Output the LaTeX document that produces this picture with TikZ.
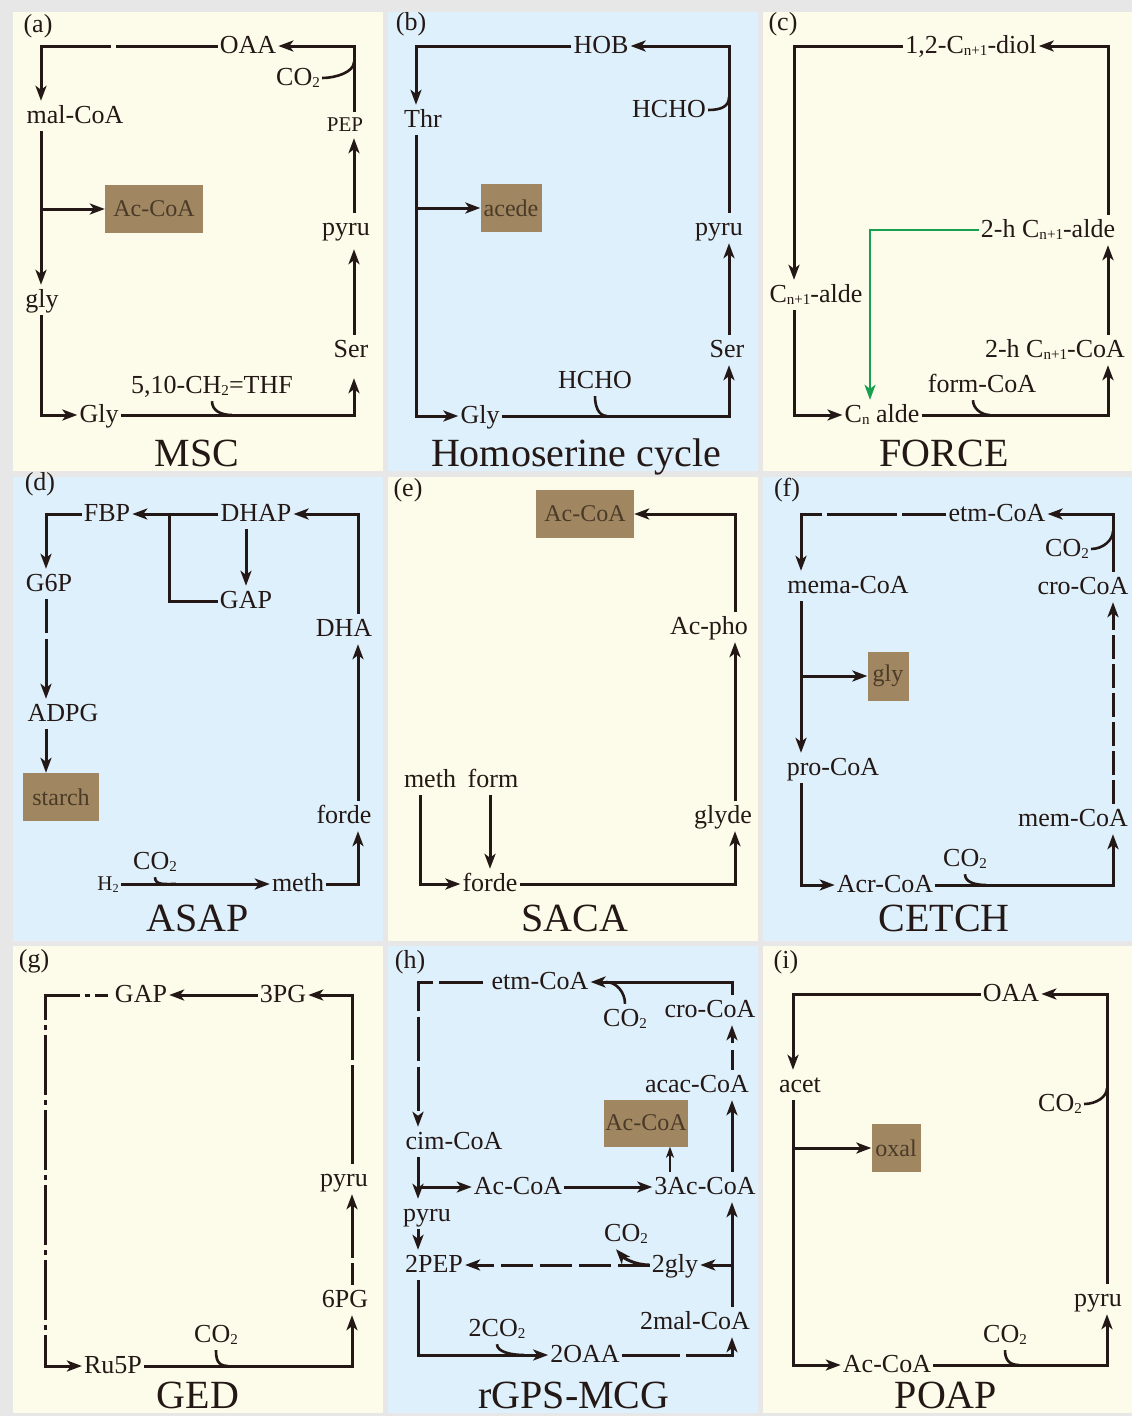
\documentclass[tikz,border=0pt]{standalone}
\usepackage{fontspec}
\setmainfont{Liberation Serif}
\usetikzlibrary{arrows.meta}
\definecolor{ink}{HTML}{231815}
\definecolor{cream}{HTML}{FDFBE9}
\definecolor{skyblue}{HTML}{DEF0FB}
\definecolor{gapgrey}{HTML}{E7E7E7}
\definecolor{boxfill}{HTML}{A08761}
\definecolor{boxtext}{HTML}{4A3A28}
\definecolor{forcegreen}{HTML}{16A050}
\newcommand{\csub}[1]{\raisebox{-0.1em}{\scalebox{0.58}{#1}}}

\begin{document}
\begin{tikzpicture}[
  x=1pt, y=-1pt,
  met/.style={inner xsep=2pt, inner ysep=4pt, text height=18pt, text depth=4pt,
    font=\fontsize{26}{28}\selectfont, text=ink},
  small/.style={met, font=\fontsize{21}{24}\selectfont, text height=15pt, text depth=3pt},
  product/.style={fill=boxfill, text=boxtext, inner sep=0pt,
    font=\fontsize{24}{26}\selectfont},
  title/.style={anchor=base, font=\fontsize{40}{44}\selectfont, text=ink},
  tag/.style={font=\fontsize{26}{28}\selectfont, text=ink},
  link/.style={line width=3pt, draw=ink},
  arrow/.style={link, -{Stealth[length=15pt, width=11pt, inset=4pt]}},
  thinarrow/.style={line width=1.8pt, draw=ink, -{Stealth[length=11pt, width=8pt, inset=3pt]}},
  hook/.style={line width=2.6pt, draw=ink},
]
\useasboundingbox (0,0) rectangle (1132,1416);
\fill[gapgrey] (0,0) rectangle (1132,1416);

% === Panel backgrounds ===
\fill[cream] (13,12) rectangle (383,471);
\fill[skyblue] (388,12) rectangle (758,471);
\fill[cream] (763,12) rectangle (1132,471);
\fill[skyblue] (13,477) rectangle (383,941);
\fill[cream] (388,477) rectangle (758,941);
\fill[skyblue] (763,477) rectangle (1132,941);
\fill[cream] (13,946) rectangle (383,1413);
\fill[skyblue] (388,946) rectangle (758,1413);
\fill[cream] (763,946) rectangle (1132,1413);

% === (a) MSC ===
\node[tag] (atag) at (38,26) {(a)};
\node[title] (atitle) at (197,466) {MSC};
\coordinate (aTL) at (41,46);
\coordinate (aTR) at (354,46);
\coordinate (aBL) at (41,415);
\coordinate (aBR) at (354,415);
\node[met] (aoaa) at (248,46) {OAA};
\node[met] (aco) at (298,78) {CO\csub{2}};
\node[met] (amal) at (75,116) {mal-CoA};
\node[met] (agly) at (42,300) {gly};
\node[met] (aGly) at (99,415) {Gly};
\node[met] (athf) at (212,386) {5,10-CH\csub{2}=THF};
\node[met] (aser) at (351,350) {Ser};
\node[met] (apyru) at (346,228) {pyru};
\node[small] (apep) at (345,125) {PEP};
\node[product, minimum width=98pt, minimum height=48pt] (abox) at (154,209) {Ac-CoA};
\coordinate (acojoin) at (354,62);
\coordinate (athfjoin) at (232,415);
\draw[arrow] (apep.north -| aTR) -- (aTR) -- (aoaa);
\draw[arrow, dash pattern=on 102pt off 5pt on 500pt] (aoaa) -- (aTL) -- (amal.north -| aTL);
\draw[arrow] (amal.south -| aTL) -- (agly.north -| aTL);
\draw[arrow] (aTL |- abox) -- (abox);
\draw[arrow] (agly.south -| aBL) -- (aBL) -- (aGly);
\draw[arrow, shorten >=13pt] (aGly) -- (aBR) -- (aser.south -| aBR);
\draw[arrow, shorten >=6pt] (aser.north -| aBR) -- (apyru.south -| aBR);
\draw[arrow] (apyru.north -| aBR) -- (apep.south -| aBR);
\draw[hook] (aco.east) .. controls ([xshift=14pt]aco.east) and ([yshift=-10pt]acojoin) .. (acojoin);
\draw[hook] (athf.south) .. controls ([yshift=-9pt]athf.south) and ([xshift=-12pt]athfjoin) .. (athfjoin);

% === (b) Homoserine cycle ===
\node[tag] (btag) at (411,24) {(b)};
\node[title] (btitle) at (576,466) {Homoserine cycle};
\coordinate (bTL) at (416,46);
\coordinate (bTR) at (729,46);
\coordinate (bBL) at (416,416);
\coordinate (bBR) at (729,416);
\node[met] (bhob) at (601,46) {HOB};
\node[met] (bthr) at (423,120) {Thr};
\node[met] (bgly) at (480,416) {Gly};
\node[met] (bser) at (727,350) {Ser};
\node[met] (bpyru) at (719,228) {pyru};
\node[met] (bhchoa) at (669,110) {HCHO};
\node[met] (bhchob) at (595,381) {HCHO};
\node[product, minimum width=61pt, minimum height=48pt] (bbox) at (511,208) {acede};
\coordinate (bhjoina) at (729,97);
\coordinate (bhjoinb) at (607,416);
\draw[arrow] (bpyru.north -| bTR) -- (bTR) -- (bhob);
\draw[arrow] (bhob) -- (bTL) -- (bthr.north -| bTL);
\draw[arrow] (bthr.south -| bBL) -- (bBL) -- (bgly);
\draw[arrow] (bTL |- bbox) -- (bbox);
\draw[arrow] (bgly) -- (bBR) -- (bser.south -| bBR);
\draw[arrow] (bser.north -| bBR) -- (bpyru.south -| bBR);
\draw[hook] (bhchoa.east) .. controls ([xshift=14pt]bhchoa.east) and ([yshift=-9pt]bhjoina) .. (bhjoina);
\draw[hook] (bhchob.south) .. controls ([yshift=-9pt]bhchob.south) and ([xshift=-9pt]bhjoinb) .. (bhjoinb);

% === (c) FORCE ===
\node[tag] (ctag) at (783,24) {(c)};
\node[title] (ctitle) at (944,466) {FORCE};
\coordinate (cTL) at (794,46);
\coordinate (cTR) at (1108,46);
\coordinate (cBL) at (794,415);
\coordinate (cBR) at (1108,415);
\node[met] (cdiol) at (971,46) {1,2-C\csub{n+1}-diol};
\node[met] (calde) at (816,295) {C\csub{n+1}-alde};
\node[met] (ccn) at (882,415) {C\csub{n} alde};
\node[met] (ccoa) at (1055,350) {2-h C\csub{n+1}-CoA};
\node[met] (chalde) at (1048,230) {2-h C\csub{n+1}-alde};
\node[met] (cform) at (982,385) {form-CoA};
\coordinate (cbend) at (870,230);
\coordinate (cformjoin) at (990,415);
\draw[arrow] (chalde.north -| cTR) -- (cTR) -- (cdiol);
\draw[arrow] (cdiol) -- (cTL) -- (calde.north -| cTL);
\draw[arrow] (calde.south -| cBL) -- (cBL) -- (ccn);
\draw[arrow] (ccn) -- (cBR) -- (ccoa.south -| cBR);
\draw[arrow] (ccoa.north -| cBR) -- (chalde.south -| cBR);
\draw[arrow, draw=forcegreen, line width=2.4pt] (chalde) -- (cbend) -- (ccn.north -| cbend);
\coordinate (cformfoot) at ([xshift=-9pt]cform.south);
\draw[hook] (cformfoot) .. controls ([yshift=-8pt]cformfoot) and ([xshift=-9pt]cformjoin) .. (cformjoin);

% === (d) ASAP ===
\node[tag] (dtag) at (40,484) {(d)};
\node[title] (dtitle) at (198,931) {ASAP};
\coordinate (dTL) at (46,514);
\coordinate (dTR) at (358,514);
\coordinate (dBR) at (358,884);
\node[met] (dfbp) at (107,514) {FBP};
\node[met] (dg6p) at (49,584) {G6P};
\node[met] (dadpg) at (63,714) {ADPG};
\node[product, minimum width=76pt, minimum height=48pt] (dbox) at (61,797) {starch};
\node[small] (dh2) at (108,884) {H\csub{2}};
\node[met] (dmeth) at (298,884) {meth};
\node[met] (dco) at (155,862) {CO\csub{2}};
\node[met] (dforde) at (344,816) {forde};
\node[met] (ddha) at (344,629) {DHA};
\node[met] (ddhap) at (256,514) {DHAP};
\node[met] (dgap) at (246,601) {GAP};
\coordinate (dsplit) at (169,514);
\coordinate (dcojoin) at (176,884);
\draw[arrow] (dh2) -- (dmeth);
\draw[hook] (dco.south) .. controls ([yshift=-8pt]dco.south) and ([xshift=-12pt]dcojoin) .. (dcojoin);
\draw[arrow] (dmeth) -- (dBR) -- (dforde.south -| dBR);
\draw[arrow] (dforde.north -| dBR) -- (ddha.south -| dBR);
\draw[arrow] (ddha.north -| dTR) -- (dTR) -- (ddhap);
\draw[arrow] (ddhap) -- (dfbp);
\draw[link] (dsplit) |- (dgap);
\draw[arrow] (ddhap.south -| dgap) -- (dgap);
\draw[arrow] (dfbp) -- (dTL) -- (dg6p.north -| dTL);
\draw[arrow, dash pattern=on 34pt off 6pt on 300pt] (dg6p.south -| dTL) -- (dadpg.north -| dTL);
\draw[arrow] (dadpg.south -| dTL) -- (dbox.north -| dTL);

% === (e) SACA ===
\node[tag] (etag) at (408,490) {(e)};
\node[title] (etitle) at (575,931) {SACA};
\coordinate (eTR) at (735,514);
\coordinate (eBR) at (735,884);
\coordinate (eBL) at (420,884);
\node[product, minimum width=98pt, minimum height=48pt] (ebox) at (585,514) {Ac-CoA};
\node[met] (epho) at (709,627) {Ac-pho};
\node[met] (eglyde) at (723,816) {glyde};
\node[met] (eforde) at (490,884) {forde};
\node[met] (emeth) at (430,780) {meth};
\node[met] (eform) at (493,780) {form};
\draw[arrow] (epho.north -| eTR) -- (eTR) -- (ebox);
\draw[arrow] (eglyde.north -| eTR) -- (epho.south -| eTR);
\draw[arrow] (eforde) -- (eBR) -- (eglyde.south -| eBR);
\draw[arrow] (emeth.south -| eBL) -- (eBL) -- (eforde);
\draw[arrow] (eform.south -| eforde) -- (eforde);

% === (f) CETCH ===
\node[tag] (ftag) at (787,490) {(f)};
\node[title] (ftitle) at (944,931) {CETCH};
\coordinate (fTL) at (801,514);
\coordinate (fTR) at (1113,514);
\coordinate (fBL) at (801,885);
\coordinate (fBR) at (1113,885);
\node[met] (fetm) at (997,514) {etm-CoA};
\node[met] (fmema) at (848,586) {mema-CoA};
\node[met] (fpro) at (833,768) {pro-CoA};
\node[product, minimum width=41pt, minimum height=49pt] (fbox) at (888,676) {gly};
\node[met] (facr) at (885,885) {Acr-CoA};
\node[met] (fcob) at (965,859) {CO\csub{2}};
\node[met] (fmem) at (1073,819) {mem-CoA};
\node[met] (fcro) at (1083,587) {cro-CoA};
\node[met] (fcoa) at (1067,549) {CO\csub{2}};
\coordinate (fcojoina) at (1113,531);
\coordinate (fcojoinb) at (986,885);
\draw[arrow] (fcro.north -| fTR) -- (fTR) -- (fetm);
\draw[arrow, dash pattern=on 44pt off 5pt on 70pt off 5pt on 500pt] (fetm) -- (fTL) -- (fmema.north -| fTL);
\draw[arrow] (fmema.south -| fTL) -- (fpro.north -| fTL);
\draw[arrow] (fTL |- fbox) -- (fbox);
\draw[arrow] (fpro.south -| fBL) -- (fBL) -- (facr);
\draw[arrow] (facr) -- (fBR) -- (fmem.south -| fBR);
\draw[arrow, dash pattern=on 24pt off 5pt] (fmem.north -| fBR) -- (fcro.south -| fBR);
\draw[hook] (fcoa.east) .. controls ([xshift=12pt]fcoa.east) and ([yshift=-9pt]fcojoina) .. (fcojoina);
\draw[hook] (fcob.south) .. controls ([yshift=-8pt]fcob.south) and ([xshift=-11pt]fcojoinb) .. (fcojoinb);

% === (g) GED ===
\node[tag] (gtag) at (34,961) {(g)};
\node[title] (gtitle) at (198,1408) {GED};
\coordinate (gTL) at (45,995);
\coordinate (gTR) at (352,995);
\coordinate (gBL) at (45,1366);
\coordinate (gBR) at (352,1366);
\node[met] (ggap) at (141,995) {GAP};
\node[met] (g3pg) at (283,995) {3PG};
\node[met] (gru5p) at (113,1366) {Ru5P};
\node[met] (g6pg) at (345,1300) {6PG};
\node[met] (gpyru) at (344,1179) {pyru};
\node[met] (gco) at (216,1335) {CO\csub{2}};
\coordinate (gcojoin) at (228,1366);
\coordinate (ggapfoot) at ([xshift=-5pt]ggap.west);
\draw[arrow] (g3pg) -- (ggap);
\draw[arrow, dash pattern=on 99pt off 5pt on 500pt] (gpyru.north -| gTR) -- (gTR) -- (g3pg);
\draw[arrow, dash pattern=on 60pt off 5pt on 5pt off 5pt, dash phase=47pt] (ggapfoot) -- (gTL) -- (gBL) -- (gru5p);
\draw[arrow] (gru5p) -- (gBR) -- (g6pg.south -| gBR);
\draw[arrow, dash pattern=on 22pt off 5pt on 300pt] (g6pg.north -| gBR) -- (gpyru.south -| gBR);
\draw[hook] (gco.south) .. controls ([yshift=-8pt]gco.south) and ([xshift=-11pt]gcojoin) .. (gcojoin);

% === (h) rGPS-MCG ===
\node[tag] (htag) at (410,962) {(h)};
\node[title] (htitle) at (574,1408) {rGPS-MCG};
\coordinate (hTL) at (418,982);
\coordinate (hTR) at (732,982);
\coordinate (hBL) at (418,1355);
\coordinate (hBR) at (732,1355);
\node[met] (hetm) at (540,982) {etm-CoA};
\node[met] (hcoa) at (625,1019) {CO\csub{2}};
\node[met] (hcro) at (710,1010) {cro-CoA};
\node[met] (hacac) at (697,1085) {acac-CoA};
\node[product, minimum width=84pt, minimum height=47pt] (hbox) at (646,1123) {Ac-CoA};
\node[met] (hcim) at (454,1142) {cim-CoA};
\node[met] (hac) at (518,1187) {Ac-CoA};
\node[met] (h3ac) at (705,1187) {3Ac-CoA};
\node[met] (hpyru) at (427,1214) {pyru};
\node[met] (h2pep) at (434,1265) {2PEP};
\node[met] (h2gly) at (675,1265) {2gly};
\node[met] (hcob) at (626,1234) {CO\csub{2}};
\node[met] (h2mal) at (695,1322) {2mal-CoA};
\node[met] (h2co) at (497,1329) {2CO\csub{2}};
\node[met] (h2oaa) at (585,1355) {2OAA};
\coordinate (hcojoin) at (606,982);
\coordinate (h2cojoin) at (524,1355);
\coordinate (hsplit) at (732,1265);
\coordinate (hup) at ([xshift=-35pt]h3ac.north);
\coordinate (hcotip) at ([xshift=-10pt]hcob.south);
\draw[arrow] (hcro.north -| hTR) -- (hTR) -- (hetm);
\draw[hook] (hcoa.north) .. controls ([yshift=12pt]hcoa.north) and ([xshift=10pt]hcojoin) .. (hcojoin);
\draw[arrow, dash pattern=on 44pt off 6pt, dash phase=44pt] (hetm) -- (hTL) -- (hcim.north -| hTL);
\draw[arrow] (hcim.south -| hTL) -- (hpyru.north -| hTL);
\draw[arrow] (hTL |- hac) -- (hac);
\draw[arrow] (hac) -- (h3ac);
\draw[thinarrow] (hup) -- (hup |- hbox.south);
\draw[arrow] (hpyru.south -| hTL) -- (h2pep.north -| hTL);
\draw[arrow] (h2pep.south -| hBL) -- (hBL) -- (h2oaa);
\draw[hook] (h2co.south) .. controls ([yshift=-8pt]h2co.south) and ([xshift=-12pt]h2cojoin) .. (h2cojoin);
\draw[arrow, dash pattern=on 58pt off 6pt on 300pt] (h2oaa) -- (hBR) -- (h2mal.south -| hBR);
\draw[arrow] (h2mal.north -| hBR) -- (h3ac.south -| hBR);
\draw[arrow] (hsplit) -- (h2gly);
\draw[arrow, dash pattern=on 32pt off 7pt] (h2gly) -- (h2pep);
\draw[arrow] (h2gly.west) .. controls ([xshift=-16pt]h2gly.west) and ([xshift=7pt, yshift=-8pt]hcotip) .. (hcotip);
\draw[arrow] (h3ac.north -| hTR) -- (hacac.south -| hTR);
\draw[arrow, dash pattern=on 20pt off 7pt on 100pt] (hacac.north -| hTR) -- (hcro.south -| hTR);

% === (i) POAP ===
\node[tag] (itag) at (786,962) {(i)};
\node[title] (ititle) at (946,1408) {POAP};
\coordinate (iTL) at (793,994);
\coordinate (iTR) at (1107,994);
\coordinate (iBL) at (793,1365);
\coordinate (iBR) at (1107,1365);
\node[met] (ioaa) at (1011,994) {OAA};
\node[met] (iacet) at (800,1085) {acet};
\node[met] (iac) at (887,1365) {Ac-CoA};
\node[product, minimum width=49pt, minimum height=48pt] (ibox) at (896,1148) {oxal};
\node[met] (ipyru) at (1098,1299) {pyru};
\node[met] (icob) at (1005,1335) {CO\csub{2}};
\node[met] (icoa) at (1060,1104) {CO\csub{2}};
\coordinate (icojoina) at (1107,1088);
\coordinate (icojoinb) at (1019,1365);
\draw[arrow] (ipyru.north -| iTR) -- (iTR) -- (ioaa);
\draw[arrow] (ioaa) -- (iTL) -- (iacet.north -| iTL);
\draw[arrow] (iacet.south -| iBL) -- (iBL) -- (iac);
\draw[arrow] (iTL |- ibox) -- (ibox);
\draw[arrow] (iac) -- (iBR) -- (ipyru.south -| iBR);
\draw[hook] (icoa.east) .. controls ([xshift=12pt]icoa.east) and ([yshift=-9pt]icojoina) .. (icojoina);
\draw[hook] (icob.south) .. controls ([yshift=-8pt]icob.south) and ([xshift=-11pt]icojoinb) .. (icojoinb);
\end{tikzpicture}
\end{document}
